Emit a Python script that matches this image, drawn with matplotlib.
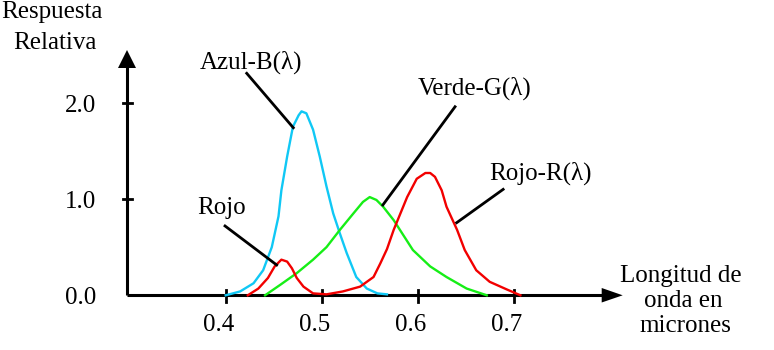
"""Spectral response curves (Azul / Verde / Rojo) redrawn with matplotlib."""

import matplotlib

matplotlib.use("Agg")
import matplotlib.pyplot as plt  # noqa: E402

# ---- data ----
blue_x = [0.400, 0.415, 0.429, 0.439, 0.448, 0.455, 0.458, 0.464, 0.470, 0.476, 0.479,
          0.484, 0.491, 0.498, 0.505, 0.512, 0.519, 0.526, 0.536, 0.547, 0.558, 0.568]
blue_y = [0.00, 0.04, 0.125, 0.26, 0.50, 0.82, 1.09, 1.44, 1.75, 1.87, 1.91,
          1.89, 1.72, 1.44, 1.13, 0.85, 0.64, 0.44, 0.19, 0.07, 0.02, 0.01]

red_x = [0.423, 0.434, 0.444, 0.451, 0.458, 0.464, 0.469, 0.474, 0.481, 0.491, 0.505,
         0.522, 0.540, 0.554, 0.561, 0.568, 0.575, 0.582, 0.589, 0.599, 0.608, 0.613,
         0.618, 0.625, 0.630, 0.641, 0.649, 0.661, 0.675, 0.693, 0.707]
red_y = [0.00, 0.07, 0.18, 0.30, 0.37, 0.35, 0.28, 0.18, 0.09, 0.02, 0.01,
         0.04, 0.09, 0.19, 0.33, 0.48, 0.68, 0.85, 1.02, 1.21, 1.27, 1.27,
         1.23, 1.09, 0.92, 0.68, 0.47, 0.26, 0.14, 0.06, 0.00]

green_x = [0.441, 0.457, 0.474, 0.491, 0.505, 0.519, 0.533, 0.543, 0.550, 0.557, 0.564,
           0.575, 0.595, 0.613, 0.630, 0.651, 0.672]
green_y = [0.00, 0.11, 0.23, 0.37, 0.50, 0.68, 0.85, 0.97, 1.02, 0.99, 0.92,
           0.78, 0.47, 0.30, 0.19, 0.07, 0.00]

x_ticks = [0.4, 0.5, 0.6, 0.7]
x_tick_labels = ["0.4", "0.5", "0.6", "0.7"]
y_ticks = [0.0, 1.0, 2.0]
y_tick_labels = ["0.0", "1.0", "2.0"]

# leader lines: (label end, curve end) in data units
leaders = [
    ((0.4219, 2.305), (0.4704, 1.74)),   # Azul-B
    ((0.3993, 0.72), (0.4531, 0.315)),   # Rojo
    ((0.6389, 1.958), (0.5637, 0.938)),  # Verde-G
    ((0.6890, 1.10), (0.6406, 0.754)),   # Rojo-R
]

W, H = 774, 350
FONT = ["Liberation Serif", "DejaVu Serif"]
FS = 18

# pixel -> data mapping (0.4 at x=225.7, 96 px per 0.1;
# 0.0 at y=295.3, 96.3 px per unit)
PX_X0, PX_PER_X = 225.7, 960.0
PX_Y0, PX_PER_Y = 295.3, 96.3


def dx(px):
    return 0.4 + (px - PX_X0) / PX_PER_X


def dy(py):
    return (PX_Y0 - py) / PX_PER_Y


fig = plt.figure(figsize=(W / 100, H / 100), dpi=100)
ax = fig.add_axes([0, 0, 1, 1])
ax.set_xlim(dx(0), dx(W))
ax.set_ylim(dy(H), dy(0))
ax.axis("off")

# axes with arrow heads
x_origin = dx(127)
ax.plot([x_origin, dx(603)], [0, 0], color="black", lw=2.2, solid_capstyle="butt")
ax.plot([x_origin, x_origin], [0, dy(66)], color="black", lw=2.2, solid_capstyle="butt")
ax.fill([dx(601.7), dx(622.7), dx(601.7)], [dy(288), 0, dy(302.5)], color="black", lw=0)
ax.fill([dx(118), x_origin, dx(136)], [dy(68), dy(50), dy(68)], color="black", lw=0)

for t, lab in zip(x_ticks, x_tick_labels):
    ax.plot([t, t], [dy(290), dy(302)], color="black", lw=2)
    ax.text(t - 0.0075, dy(325), lab, ha="center", va="center", family=FONT, fontsize=FS)
for t, lab in zip(y_ticks, y_tick_labels):
    if t > 0:
        ax.plot([dx(123), dx(132)], [t, t], color="black", lw=2)
    ax.text(dx(96), t - 0.03, lab, ha="right", va="center", family=FONT, fontsize=FS)

# response curves
ax.plot(blue_x, blue_y, color="#10C8F5", lw=1.7)
ax.plot(green_x, green_y, color="#16EE16", lw=1.7)
ax.plot(red_x, red_y, color="#F20000", lw=1.7)

for (x0, y0), (x1, y1) in leaders:
    ax.plot([x0, x1], [y0, y1], color="black", lw=2)


def label(px, py, s, ha="left"):
    fig.text(px / W, 1 - py / H, s, ha=ha, va="baseline", family=FONT, fontsize=FS)


label(52, 18.3, "Respuesta", ha="center")
label(55, 49.3, "Relativa", ha="center")
label(200, 68.3, "Azul-B(λ)")
label(418, 94.3, "Verde-G(λ)")
label(489, 180, "Rojo-R(λ)")
label(197, 214.3, "Rojo")
label(681, 281.7, "Longitud de", ha="center")
label(683, 306.7, "onda en", ha="center")
label(685, 331.7, "micrones", ha="center")

fig.savefig("out.png", dpi=100)
